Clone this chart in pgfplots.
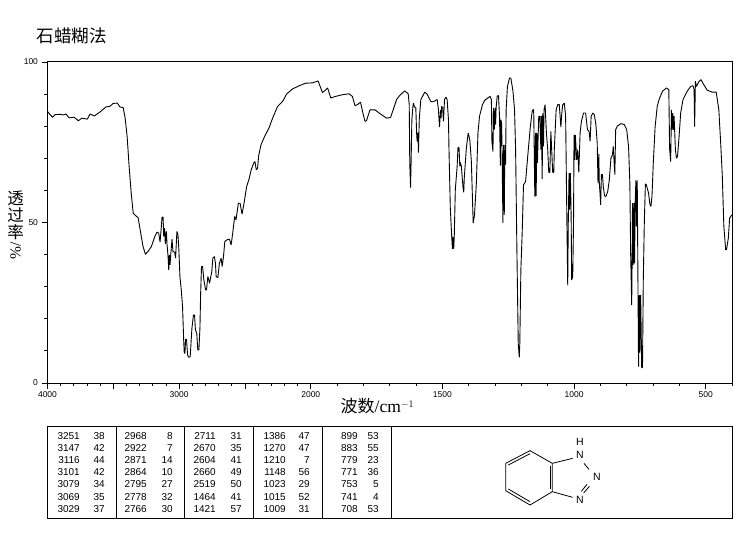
\documentclass[border=0pt]{standalone}
\usepackage{fontspec}
\setmainfont{Liberation Sans}
\newfontfamily\cjk{Noto Sans CJK SC}
\newfontfamily\lser{Liberation Serif}
\usepackage{pgfplots}
\usepackage{pgfplotstable}
\pgfplotsset{compat=1.18}
\pgfplotstableread{
wn T
4000 84.6
3980 83.6
3962 82.8
3942 83.6
3904 83.7
3879 83.5
3859 83.8
3836 82.6
3798 82.8
3765 81.7
3740 82.5
3697 82.2
3677 83.8
3644 83.2
3602 84.4
3556 86.0
3526 86.2
3501 87.1
3470 87.2
3450 86.0
3425 85.8
3410 82.5
3395 76.8
3380 67.5
3364 59.1
3349 52.9
3311 51.4
3294 47.2
3274 42.5
3256 40.1
3236 41.0
3211 42.5
3185 45.6
3168 47.0
3155 46.7
3145 43.9
3135 48.8
3130 51.7
3122 51.7
3117 45.6
3110 48.2
3105 43.3
3097 47.2
3092 43.2
3084 39.4
3079 35.2
3074 39.9
3069 36.8
3064 39.9
3054 44.8
3047 41.0
3034 40.7
3027 38.9
3017 47.2
3009 46.2
3002 41.5
2994 33.2
2984 29.0
2974 23.8
2966 13.9
2961 9.3
2956 9.3
2951 13.6
2944 13.6
2936 8.7
2926 8.0
2916 8.2
2903 17.0
2891 21.2
2883 21.2
2876 16.5
2866 15.5
2858 10.3
2850 10.3
2842 17.0
2837 27.4
2830 36.3
2822 36.3
2812 32.1
2799 29.0
2792 29.0
2782 33.2
2769 31.1
2752 34.7
2744 38.9
2732 39.4
2724 37.3
2719 33.2
2706 32.8
2694 37.3
2681 38.9
2673 36.3
2663 39.4
2653 44.1
2636 44.6
2618 44.8
2605 43.0
2593 46.7
2578 51.9
2568 50.8
2550 56.0
2537 56.0
2522 52.6
2505 56.5
2487 61.2
2467 63.8
2454 66.2
2434 68.5
2424 69.0
2414 66.4
2404 66.9
2396 70.8
2378 74.2
2353 76.6
2315 79.7
2290 82.5
2252 86.2
2214 87.7
2184 90.0
2139 91.6
2088 92.6
2038 93.4
1994 93.5
1972 94.1
1956 90.5
1946 91.1
1936 91.9
1924 88.8
1905 89.3
1880 89.8
1855 90.1
1842 89.3
1832 86.4
1823 86.7
1811 87.5
1802 84.1
1794 81.5
1788 81.8
1775 85.1
1756 85.1
1737 83.9
1712 82.5
1697 82.7
1687 85.1
1674 88.3
1662 89.6
1643 91.0
1630 90.1
1626 86.7
1624 68.5
1621 60.9
1619 68.5
1616 82.0
1612 86.2
1610 87.2
1606 86.0
1601 85.7
1598 77.9
1596 75.3
1593 77.9
1591 71.8
1588 82.0
1582 88.3
1567 90.6
1558 90.0
1544 87.7
1535 87.6
1520 88.3
1515 85.1
1511 79.7
1507 85.1
1505 82.5
1503 86.2
1499 85.7
1496 81.5
1492 88.3
1487 89.1
1482 88.3
1477 82.0
1475 72.7
1470 54.5
1465 46.2
1462 41.8
1460 45.6
1457 41.8
1455 45.6
1451 60.2
1444 67.5
1441 73.2
1437 73.5
1434 67.5
1432 68.7
1428 67.5
1422 61.2
1419 59.4
1417 63.8
1409 73.2
1402 77.9
1396 75.8
1390 69.0
1385 55.0
1383 49.8
1378 52.4
1371 62.3
1365 77.9
1359 83.1
1348 86.7
1340 88.0
1327 88.8
1319 89.3
1314 88.3
1312 75.3
1308 72.1
1306 85.7
1303 78.9
1300 85.7
1298 80.5
1296 85.7
1292 89.3
1287 89.6
1283 83.0
1280 67.7
1278 82.0
1275 81.0
1270 49.8
1268 74.2
1265 52.4
1263 74.2
1260 68.0
1258 85.1
1253 92.4
1245 95.0
1240 95.0
1232 90.9
1226 85.1
1222 72.7
1217 41.0
1212 12.4
1208 8.0
1206 12.4
1202 35.2
1197 46.7
1192 61.7
1184 62.8
1176 70.6
1166 79.9
1159 84.6
1155 85.3
1153 84.0
1149 58.1
1146 77.9
1144 58.3
1141 77.9
1139 68.5
1136 77.9
1134 83.1
1130 83.1
1126 72.7
1124 83.1
1121 63.5
1119 84.1
1116 73.7
1114 85.1
1110 86.7
1105 77.9
1100 72.7
1096 65.6
1092 65.6
1088 78.4
1085 72.7
1081 65.6
1077 65.6
1075 72.7
1068 85.1
1062 86.7
1056 86.7
1050 79.7
1047 83.6
1043 86.7
1037 87.2
1032 83.1
1027 49.3
1024 30.4
1022 49.3
1019 65.4
1017 54.0
1014 65.4
1011 51.9
1009 32.1
1005 33.2
1002 49.8
1000 77.3
997 69.5
995 77.3
992 72.7
990 69.5
986 72.7
982 65.6
977 77.9
972 81.5
964 84.1
956 84.1
949 78.9
943 78.4
939 75.3
935 83.1
929 84.1
923 83.6
917 80.5
912 74.7
909 62.3
906 71.4
904 62.3
901 58.6
899 55.5
896 64.9
892 64.9
889 61.2
884 58.3
879 58.1
872 59.7
866 63.3
860 70.0
854 71.1
851 73.7
849 70.6
845 64.9
842 78.9
835 80.1
822 80.8
809 80.5
800 78.9
793 73.7
788 62.3
785 40.4
781 24.3
779 41.5
778 56.0
775 36.8
773 56.0
770 37.3
768 56.0
765 63.1
763 48.8
760 63.1
755 5.1
752 27.4
750 9.5
747 27.4
743 4.8
740 4.8
737 32.1
733 50.3
729 62.0
725 61.7
717 59.1
712 55.8
708 55.0
704 58.1
699 68.5
692 79.9
684 86.2
677 88.3
664 90.9
649 91.9
640 91.4
637 72.9
633 69.0
630 85.1
628 78.9
625 84.1
623 78.9
620 83.1
617 76.8
615 72.7
611 70.0
607 70.6
601 76.8
595 84.1
586 88.3
570 90.9
557 92.4
548 92.6
544 91.4
542 79.9
539 94.0
535 92.4
525 94.0
518 94.5
507 92.9
494 91.2
475 90.6
460 90.6
450 85.1
443 74.7
437 64.9
431 48.8
424 41.5
421 41.5
414 45.1
409 51.4
400 52.4
}\spectrum
\begin{document}
\begin{tikzpicture}[x=1pt,y=1pt]
\useasboundingbox (0,0) rectangle (743,539);
\begin{axis}[
  at={(47.5pt,156pt)},anchor=south west,
  scale only axis,width=684.5pt,height=321pt,
  x coord trafo/.code={\pgfmathparse{#1>2000?(4000-#1)/2:3000-#1}},
  xmin=4000,xmax=400,ymin=0,ymax=100,
  axis line style={line width=1pt},
  tick align=outside,
  xtick={4000,3500,3000,2500,2000,1500,1000,500},
  xticklabels={4000,,3000,,2000,1500,1000,500},
  minor xtick={3900,3800,3700,3600,3400,3300,3200,3100,2900,2800,2700,2600,2400,2300,2200,2100,1900,1800,1700,1600,1400,1300,1200,1100,900,800,700,600,400},
  ytick={0,50,100},
  yticklabels={0,50,100},
  minor ytick={10,20,30,40,60,70,80,90},
  major tick length=5.5pt,minor tick length=3.2pt,
  tick style={line width=0.9pt,black},
  minor tick style={line width=0.9pt,black},
  xtick pos=bottom,ytick pos=left,
  tick label style={font=\fontsize{8.5}{10}\selectfont},
  /pgf/number format/assume math mode=true,
  xticklabel style={yshift=0.5pt},
  yticklabel style={xshift=-0.5pt},
]
\addplot[black,line width=0.9pt,line join=bevel,mark=none] table[x=wn,y=T] {\spectrum};
\end{axis}
% titles
\node[anchor=west,font=\fontsize{17.5}{20}\selectfont\cjk,inner sep=0pt] at (36.5,503) {石蜡糊法};
\node[font=\fontsize{16.5}{17}\selectfont\cjk,inner sep=0pt] at (15.5,341) {透};
\node[font=\fontsize{16.5}{17}\selectfont\cjk,inner sep=0pt] at (15.5,324) {过};
\node[font=\fontsize{16.5}{17}\selectfont\cjk,inner sep=0pt] at (15.5,307) {率};
\node[rotate=90,font=\fontsize{15.5}{16}\selectfont\lser,inner sep=0pt] at (15.5,288) {\%/};
\node[anchor=west,inner sep=0pt] at (340.5,133) {{\fontsize{17}{18}\selectfont\cjk 波数}{\fontsize{17.5}{18}\selectfont\lser/cm}{\fontsize{14}{18}\selectfont$^{-1}$}};
% table frame
\draw[line width=1pt] (47,113) rectangle (732,21);
\foreach \x in {116,184,253,322,391} \draw[line width=1pt] (\x,113) -- (\x,21);
% table text
\newcommand{\row}[5]{\node[anchor=base east,inner sep=0pt,font=\fontsize{10}{12}\selectfont] at (#1,#3) {#4};\node[anchor=base east,inner sep=0pt,font=\fontsize{10}{12}\selectfont] at (#2,#3) {#5};}
\foreach \wn/\v/\y in {3251/38/99.5,3147/42/87.5,3116/44/75.5,3101/42/63.5,3079/34/51.5,3069/35/38.5,3029/37/26.5} {\row{80}{105}{\y}{\wn}{\v}}
\foreach \wn/\v/\y in {2968/8/99.5,2922/7/87.5,2871/14/75.5,2864/10/63.5,2795/27/51.5,2778/32/38.5,2766/30/26.5} {\row{147}{173}{\y}{\wn}{\v}}
\foreach \wn/\v/\y in {2711/31/99.5,2670/35/87.5,2604/41/75.5,2660/49/63.5,2519/50/51.5,1464/41/38.5,1421/57/26.5} {\row{216}{242}{\y}{\wn}{\v}}
\foreach \wn/\v/\y in {1386/47/99.5,1270/47/87.5,1210/7/75.5,1148/56/63.5,1023/29/51.5,1015/52/38.5,1009/31/26.5} {\row{286}{310}{\y}{\wn}{\v}}
\foreach \wn/\v/\y in {899/53/99.5,883/55/87.5,779/23/75.5,771/36/63.5,753/5/51.5,741/4/38.5,708/53/26.5} {\row{358}{379}{\y}{\wn}{\v}}
% molecule
\begin{scope}[shift={(380pt,119pt)},x=0.33333pt,y=-0.33333pt,line width=0.8pt]
\draw (450,92)--(517,130)--(517,215)--(450,255)--(377,212)--(377,130)--cycle;
\draw (450,101)--(385,135);
\draw (385,207)--(450,245);
\draw (510,137)--(510,208);
\draw (517,130)--(578,115);
\draw (517,215)--(578,232);
\draw (612,130)--(627,148);
\draw (621,193)--(604,214);
\draw (628,199)--(611,219);
\node[font=\fontsize{10.5}{12}\selectfont,inner sep=0pt] at (600,67) {H};
\node[font=\fontsize{10.5}{12}\selectfont,inner sep=0pt] at (600,105) {N};
\node[font=\fontsize{10.5}{12}\selectfont,inner sep=0pt] at (651,172) {N};
\node[font=\fontsize{10.5}{12}\selectfont,inner sep=0pt] at (600,240) {N};
\end{scope}
\end{tikzpicture}
\end{document}
